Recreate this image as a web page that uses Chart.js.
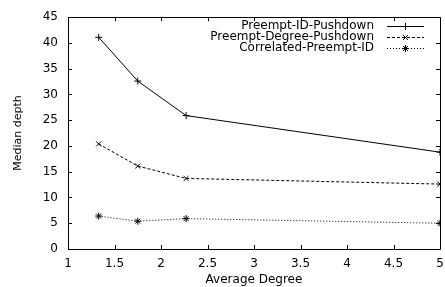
<!DOCTYPE html>
<html>
<head>
<meta charset="utf-8">
<script src="https://cdn.jsdelivr.net/npm/chart.js@4/dist/chart.umd.min.js"></script>
<style>
  html, body { margin: 0; padding: 0; background: #fff; }
  #wrap { width: 445px; height: 287px; }
</style>
</head>
<body>
<div id="wrap"><canvas id="depthChart" width="445" height="287"></canvas></div>
<script>
// values
const avgDegree = [1.33, 1.75, 2.27, 5];
const idPushdown = [41.1, 32.6, 25.9, 18.8];
const degreePushdown = [20.4, 16.1, 13.7, 12.6];
const correlatedId = [6.4, 5.4, 5.9, 5.0];
const seriesNames = ['Preempt-ID-Pushdown', 'Preempt-Degree-Pushdown', 'Correlated-Preempt-ID'];

const fontFamily = "'DejaVu Sans', sans-serif";

function toPoints(ys) {
    return avgDegree.map((x, i) => ({ x: x, y: ys[i] }));
}

// gnuplot style: ticks pointing inward on all four sides + full border
const frameTicks = {
    id: 'frameTicks',
    afterDraw(chart) {
        const ctx = chart.ctx;
        const a = chart.chartArea;
        const xs = chart.scales.x, ys = chart.scales.y;
        ctx.save();
        ctx.strokeStyle = '#000';
        ctx.lineWidth = 1;
        ctx.beginPath();
        ctx.rect(Math.round(a.left) + 0.5, Math.round(a.top) + 0.5,
                 Math.round(a.right - a.left), Math.round(a.bottom - a.top));
        xs.ticks.forEach(t => {
            const px = Math.round(xs.getPixelForValue(t.value)) + 0.5;
            ctx.moveTo(px, a.bottom); ctx.lineTo(px, a.bottom - 4);
            ctx.moveTo(px, a.top); ctx.lineTo(px, a.top + 4);
        });
        ys.ticks.forEach(t => {
            const py = Math.round(ys.getPixelForValue(t.value)) + 0.5;
            ctx.moveTo(a.left, py); ctx.lineTo(a.left + 4, py);
            ctx.moveTo(a.right, py); ctx.lineTo(a.right - 4, py);
        });
        ctx.stroke();
        ctx.restore();
    }
};

// legend in the top right corner, text right aligned, sample on the right
const cornerLegend = {
    id: 'cornerLegend',
    afterDraw(chart) {
        const ctx = chart.ctx;
        const a = chart.chartArea;
        const textRight = a.right - 66;
        const lineL = a.right - 53, lineR = a.right - 16;
        ctx.save();
        ctx.font = '12px ' + fontFamily;
        ctx.fillStyle = '#000';
        ctx.textAlign = 'right';
        ctx.textBaseline = 'middle';
        chart.data.datasets.forEach((ds, i) => {
            const y = Math.round(a.top + 9 + i * 11);
            ctx.fillText(ds.label, textRight, y);
            ctx.strokeStyle = '#000';
            ctx.lineWidth = 1;
            ctx.setLineDash(ds.borderDash || []);
            ctx.beginPath();
            ctx.moveTo(lineL, y + 0.5);
            ctx.lineTo(lineR, y + 0.5);
            ctx.stroke();
            ctx.setLineDash([]);
            Chart.helpers.drawPoint(ctx, {
                pointStyle: ds.pointStyle, radius: ds.pointRadius, borderWidth: 1
            }, (lineL + lineR) / 2, y + 0.5);
        });
        ctx.restore();
    }
};

const styles = [
    { dash: [], point: 'cross' },
    { dash: [3, 2], point: 'crossRot' },
    { dash: [1, 2], point: 'star' }
];

const seriesData = [idPushdown, degreePushdown, correlatedId];

new Chart(document.getElementById('depthChart').getContext('2d'), {
    type: 'line',
    data: {
        datasets: seriesData.map((ys, i) => ({
            label: seriesNames[i],
            data: toPoints(ys),
            borderColor: '#000',
            backgroundColor: '#000',
            borderWidth: 1,
            borderDash: styles[i].dash,
            pointStyle: styles[i].point,
            pointRadius: 3.5,
            pointBorderWidth: 1,
            pointBorderColor: '#000',
            tension: 0,
            fill: false
        }))
    },
    options: {
        responsive: false,
        animation: false,
        layout: { padding: { top: 13, right: 3, left: 0, bottom: 0 } },
        plugins: {
            legend: { display: false },
            tooltip: { enabled: false }
        },
        scales: {
            x: {
                type: 'linear',
                min: 1,
                max: 5,
                grid: { display: false, drawTicks: false },
                border: { display: false },
                ticks: {
                    stepSize: 0.5,
                    padding: 8,
                    color: '#000',
                    maxRotation: 0,
                    font: { family: fontFamily, size: 12 },
                    callback: v => String(v)
                },
                title: {
                    display: true,
                    text: 'Average Degree',
                    color: '#000',
                    padding: { top: 0, bottom: 0 },
                    font: { family: fontFamily, size: 12 }
                },
                afterFit: s => {
                    s.height = 38;
                    s.paddingLeft = 0;
                    s.paddingRight = 0;
                }
            },
            y: {
                min: 0,
                max: 45,
                grid: { display: false, drawTicks: false },
                border: { display: false },
                ticks: {
                    stepSize: 5,
                    padding: 10,
                    color: '#000',
                    font: { family: fontFamily, size: 12 }
                },
                title: {
                    display: true,
                    text: 'Median depth',
                    color: '#000',
                    padding: { top: 12, bottom: 0 },
                    font: { family: fontFamily, size: 11 }
                },
                afterFit: s => { s.width = 68; }
            }
        }
    },
    plugins: [frameTicks, cornerLegend]
});
</script>
</body>
</html>
